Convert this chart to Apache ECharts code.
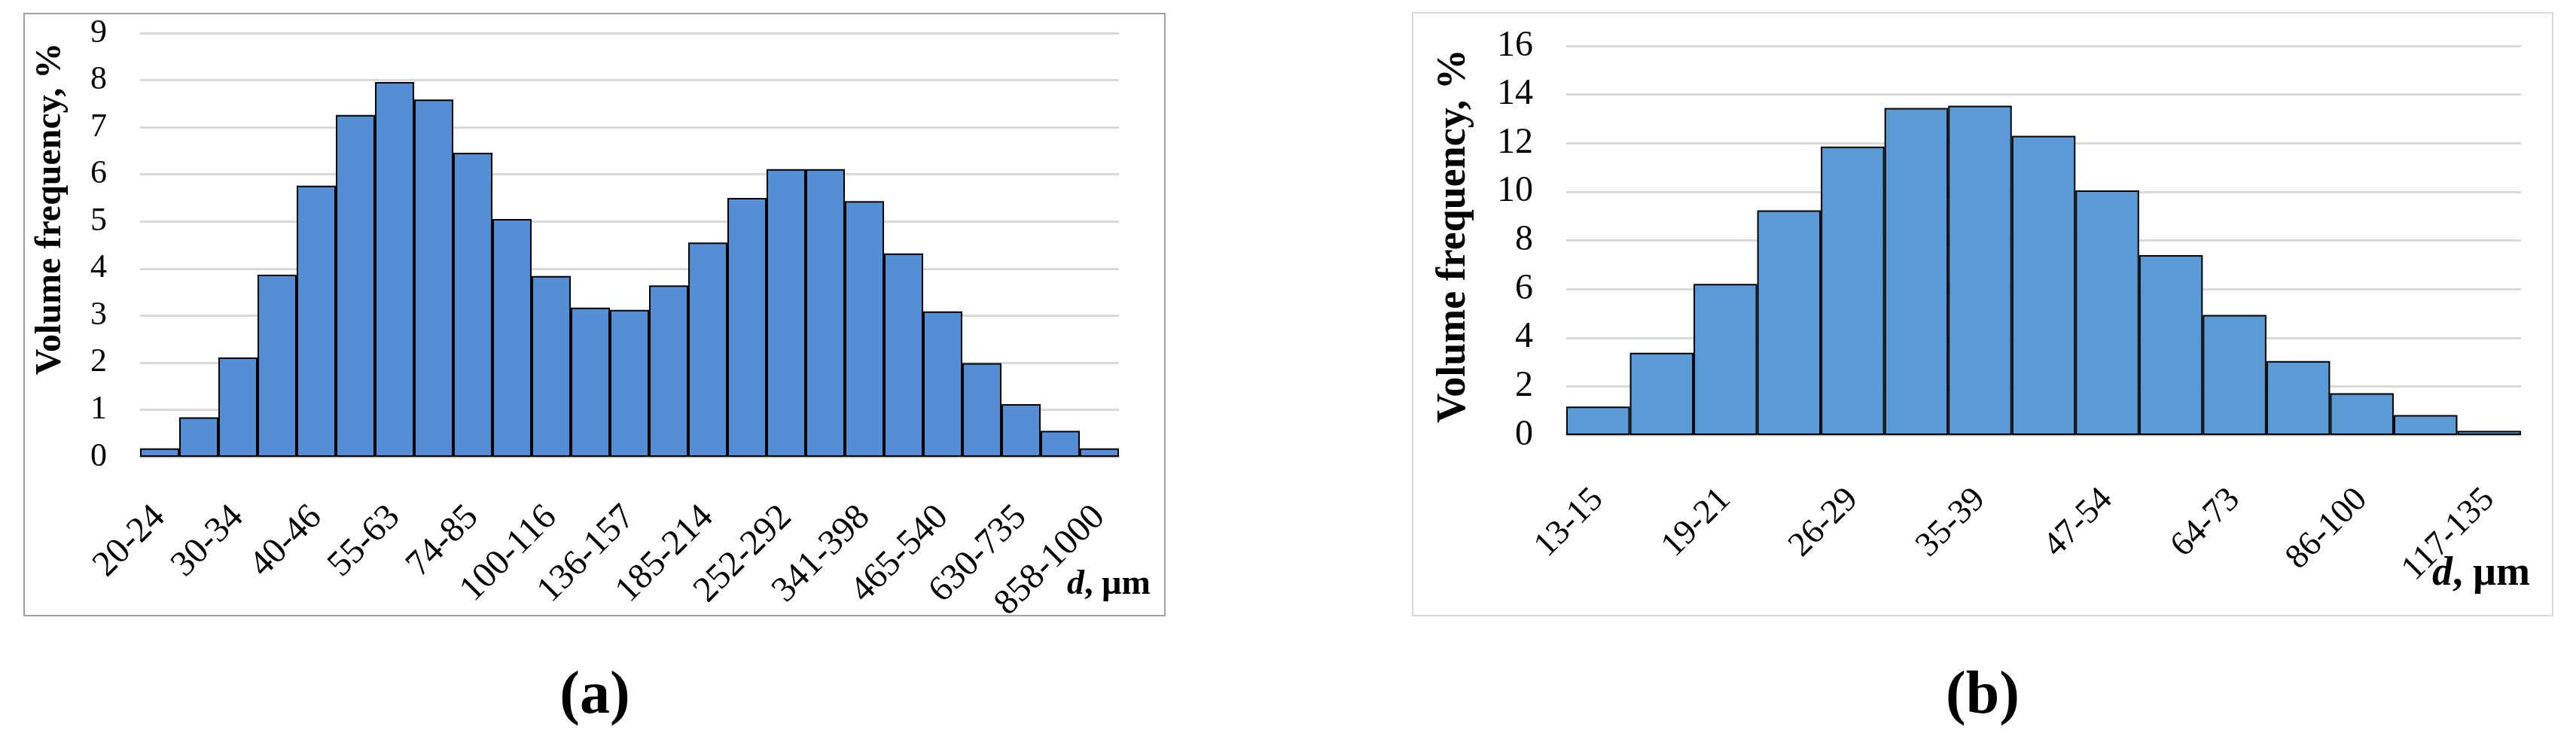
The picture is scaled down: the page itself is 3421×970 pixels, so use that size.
<!DOCTYPE html>
<html>
<head>
<meta charset="utf-8">
<script src="https://cdn.jsdelivr.net/npm/echarts@6/dist/echarts.min.js"></script>
<style>
html,body{margin:0;padding:0;background:#fff;}
#chart{width:3421px;height:970px;}
</style>
</head>
<body>
<div id="chart"></div>
<script>
// ---- data ----
var catsA = ['20-24','25-29','30-34','35-39','40-46','47-54','55-63','64-73','74-85','86-99','100-116','117-135','136-157','158-184','185-214','215-251','252-292','293-340','341-398','399-464','465-540','541-629','630-735','736-857','858-1000'];
var valsA = [0.18,0.84,2.11,3.87,5.76,7.26,7.96,7.59,6.46,5.05,3.84,3.17,3.12,3.64,4.55,5.5,6.11,6.11,5.43,4.32,3.09,1.99,1.12,0.55,0.18];
var catsB = ['13-15','16-18','19-21','22-25','26-29','30-34','35-39','40-46','47-54','55-63','64-73','74-85','86-100','101-116','117-135'];
var valsB = [1.17,3.38,6.21,9.24,11.86,13.45,13.54,12.3,10.06,7.4,4.94,3.04,1.72,0.82,0.17];
var yAxisA = {min: 0, max: 9, step: 1};
var yAxisB = {min: 0, max: 16, step: 2};
var yTitle = 'Volume frequency, %';
var captions = ['a', 'b'];

var FONT = '"Liberation Serif", "Times New Roman", serif';
var chart = echarts.init(document.getElementById('chart'), null, {renderer: 'canvas'});

function xAxisCfg(idx, cats, fs, margin) {
  return {
    type: 'category', gridIndex: idx, data: cats,
    axisLine: {show: true, lineStyle: {color: '#bfbfbf', width: 2}},
    axisTick: {show: false},
    axisLabel: {interval: 1, rotate: 45, margin: margin,
      fontFamily: FONT, fontSize: fs, color: '#000'},
    splitLine: {show: false}
  };
}
function yAxisCfg(idx, cfg, fs, nameFs, gap, pad) {
  return {
    type: 'value', gridIndex: idx, min: cfg.min, max: cfg.max, interval: cfg.step,
    axisLine: {show: false}, axisTick: {show: false},
    axisLabel: {margin: 44, fontFamily: FONT, fontSize: fs, color: '#000'},
    splitLine: {lineStyle: {color: '#d9d9d9', width: 3}},
    name: yTitle, nameLocation: 'middle', nameRotate: 90, nameGap: gap,
    nameTextStyle: {fontFamily: FONT, fontSize: nameFs, fontWeight: 'bold', color: '#000', padding: pad}
  };
}

var option = {
  animation: false,
  backgroundColor: '#fff',
  grid: [
    {left: 186, top: 44, width: 1300, height: 563},
    {left: 2080, top: 61, width: 1268, height: 517}
  ],
  xAxis: [xAxisCfg(0, catsA, 48, 73), xAxisCfg(1, catsB, 46, 79)],
  yAxis: [yAxisCfg(0, yAxisA, 44, 48, 94, [0, 0, 0, 96]), yAxisCfg(1, yAxisB, 48, 54, 122, [0, 0, 0, 12])],
  series: [
    {type: 'bar', xAxisIndex: 0, yAxisIndex: 0, data: valsA, barCategoryGap: '0%',
      itemStyle: {color: '#558ED5', borderColor: '#000', borderWidth: 2}},
    {type: 'bar', xAxisIndex: 1, yAxisIndex: 1, data: valsB, barCategoryGap: '0%',
      itemStyle: {color: '#5B9BD5', borderColor: '#000', borderWidth: 2}}
  ],
  title: [
    {text: '{i|d}{n|, µm}', left: 1417, top: 754, padding: 0,
      textStyle: {rich: {i: {fontFamily: FONT, fontSize: 46, fontStyle: 'italic', fontWeight: 'bold', color: '#000'},
                         n: {fontFamily: FONT, fontSize: 46, fontWeight: 'bold', color: '#000'}}}},
    {text: '{i|d}{n|, µm}', left: 3230, top: 736, padding: 0,
      textStyle: {rich: {i: {fontFamily: FONT, fontSize: 54, fontStyle: 'italic', fontWeight: 'bold', color: '#000'},
                         n: {fontFamily: FONT, fontSize: 54, fontWeight: 'bold', color: '#000'}}}},
    {text: '{p|(}{b|' + captions[0] + '}{p|)}', left: 790, textAlign: 'center', top: 886, padding: 0,
      textStyle: {rich: {p: {fontFamily: FONT, fontSize: 80, color: '#000'},
                         b: {fontFamily: FONT, fontSize: 80, fontWeight: 'bold', color: '#000'}}}},
    {text: '{p|(}{b|' + captions[1] + '}{p|)}', left: 2633, textAlign: 'center', top: 886, padding: 0,
      textStyle: {rich: {p: {fontFamily: FONT, fontSize: 80, color: '#000'},
                         b: {fontFamily: FONT, fontSize: 80, fontWeight: 'bold', color: '#000'}}}}
  ],
  graphic: [
    {type: 'rect', shape: {x: 32, y: 18, width: 1515, height: 800}, z: -10,
      style: {fill: 'none', stroke: '#a0a0a0', lineWidth: 2}},
    {type: 'rect', shape: {x: 1876, y: 17, width: 1514, height: 801}, z: -10,
      style: {fill: 'none', stroke: '#d9d9d9', lineWidth: 2}}
  ]
};
chart.setOption(option);
</script>
</body>
</html>
